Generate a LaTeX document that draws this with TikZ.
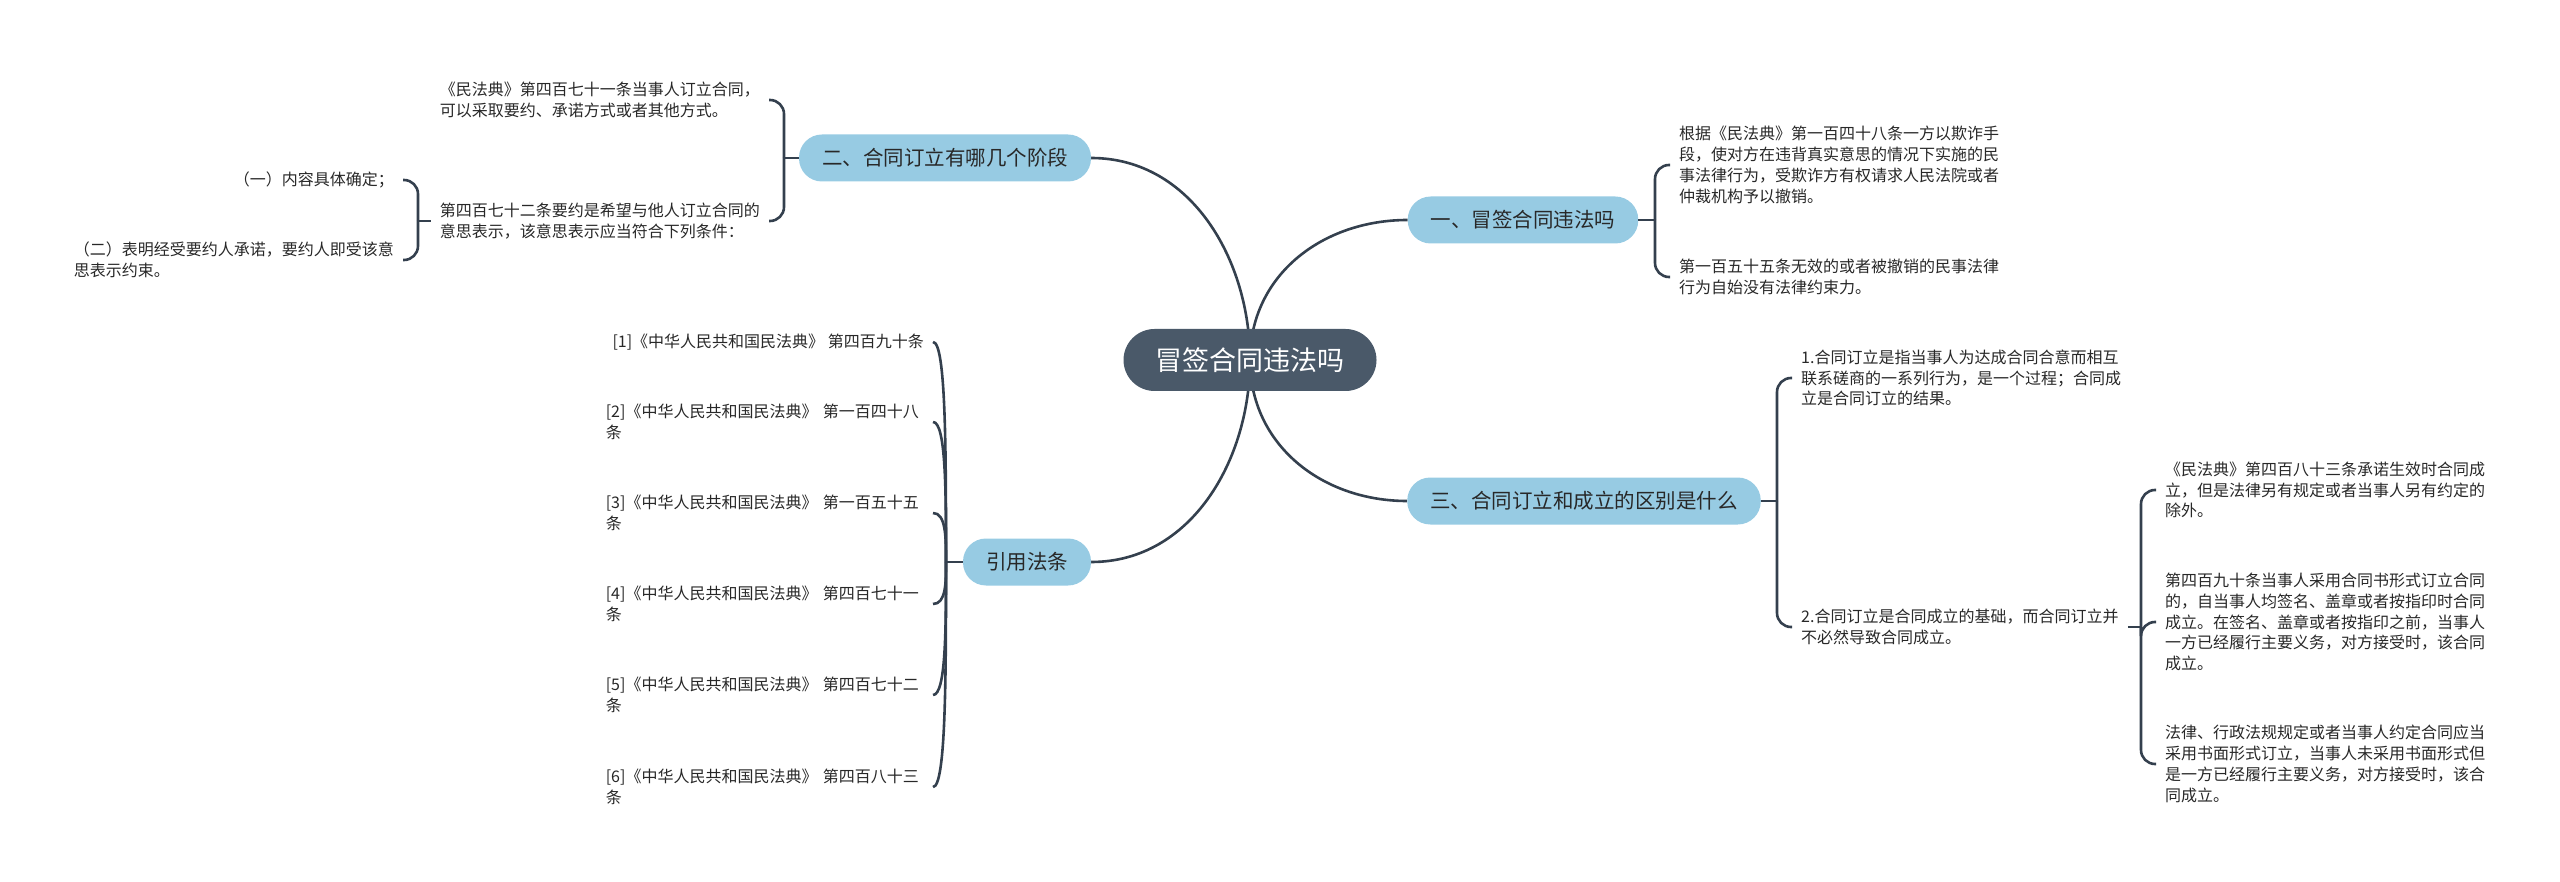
\documentclass[tikz,border=0pt]{standalone}
\usepackage{fontspec}
\setmainfont{Noto Sans CJK SC}
\usetikzlibrary{calc,backgrounds}
\definecolor{rootgray}{RGB}{74,89,105}
\definecolor{topicblue}{RGB}{151,203,227}
\definecolor{linkgray}{RGB}{52,64,78}
\definecolor{textgray}{RGB}{40,40,40}

\begin{document}
\begin{tikzpicture}[x=1pt,y=-1pt,
  root/.style={fill=rootgray,text=white,rounded corners=31pt,minimum height=62pt,inner xsep=32pt,inner ysep=0pt,font=\fontsize{27}{32}\selectfont},
  topic/.style={fill=topicblue,text=textgray,rounded corners=23pt,minimum height=47pt,inner xsep=23pt,inner ysep=0pt,font=\fontsize{20.5}{24}\selectfont},
  leaf/.style={text=textgray,align=left,inner xsep=9pt,inner ysep=0pt,font=\fontsize{16}{20.8}\selectfont},
  link/.style={linkgray,line width=2.6pt},
  brace/.style={link,rounded corners=14pt}]
\useasboundingbox (0,0) rectangle (2560,882);

% central topic and main branches
\node[root] (root) at (1250,360) {冒签合同违法吗};
\node[topic] (n1) at (1523,220) {一、冒签合同违法吗};
\node[topic] (n2) at (945,158) {二、合同订立有哪几个阶段};
\node[topic] (n3) at (1584,501) {三、合同订立和成立的区别是什么};
\node[topic] (n4) at (1027,562) {引用法条};

\begin{scope}[on background layer]
\draw[link] (root.center) .. controls +(0,-85) and +(-85,0) .. (n1.west);
\draw[link] (root.center) .. controls +(0,-100) and +(100,0) .. (n2.east);
\draw[link] (root.center) .. controls +(0,85) and +(-85,0) .. (n3.west);
\draw[link] (root.center) .. controls +(0,100) and +(100,0) .. (n4.east);
\end{scope}

% branch one
\node[leaf,anchor=west] (c11) at (1670,165) {根据《民法典》第一百四十八条一方以欺诈手\\段，使对方在违背真实意思的情况下实施的民\\事法律行为，受欺诈方有权请求人民法院或者\\仲裁机构予以撤销。};
\node[leaf,anchor=west] (c12) at (1670,277) {第一百五十五条无效的或者被撤销的民事法律\\行为自始没有法律约束力。};
\coordinate (b1) at (1655,220);
\draw[link] (n1.east) -- (b1);
\draw[brace] (b1) |- (c11.west);
\draw[brace] (b1) |- (c12.west);

% branch two
\node[leaf,anchor=east] (c21) at (769,100) {《民法典》第四百七十一条当事人订立合同，\\可以采取要约、承诺方式或者其他方式。};
\node[leaf,anchor=east] (c22) at (769,221) {第四百七十二条要约是希望与他人订立合同的\\意思表示，该意思表示应当符合下列条件：};
\coordinate (b2) at (784,158);
\draw[link] (n2.west) -- (b2);
\draw[brace] (b2) |- (c21.east);
\draw[brace] (b2) |- (c22.east);

\node[leaf,anchor=east] (c221) at (403,180) {（一）内容具体确定；};
\node[leaf,anchor=east] (c222) at (403,260) {（二）表明经受要约人承诺，要约人即受该意\\思表示约束。};
\coordinate (b22) at (418,221);
\draw[link] (c22.west) -- (b22);
\draw[brace] (b22) |- (c221.east);
\draw[brace] (b22) |- (c222.east);

% branch three
\node[leaf,anchor=west] (c31) at (1792,378) {1.合同订立是指当事人为达成合同合意而相互\\联系磋商的一系列行为，是一个过程；合同成\\立是合同订立的结果。};
\node[leaf,anchor=west] (c32) at (1792,627) {2.合同订立是合同成立的基础，而合同订立并\\不必然导致合同成立。};
\coordinate (b3) at (1777,501);
\draw[link] (n3.east) -- (b3);
\draw[brace] (b3) |- (c31.west);
\draw[brace] (b3) |- (c32.west);

\node[leaf,anchor=west] (c321) at (2156,490) {《民法典》第四百八十三条承诺生效时合同成\\立，但是法律另有规定或者当事人另有约定的\\除外。};
\node[leaf,anchor=west] (c322) at (2156,622) {第四百九十条当事人采用合同书形式订立合同\\的，自当事人均签名、盖章或者按指印时合同\\成立。在签名、盖章或者按指印之前，当事人\\一方已经履行主要义务，对方接受时，该合同\\成立。};
\node[leaf,anchor=west] (c323) at (2156,764) {法律、行政法规规定或者当事人约定合同应当\\采用书面形式订立，当事人未采用书面形式但\\是一方已经履行主要义务，对方接受时，该合\\同成立。};
\coordinate (b32) at (2141,627);
\draw[link] (c32.east) -- (b32);
\draw[brace] (b32) |- (c321.west);
\draw[brace] (b32) |- (c322.west);
\draw[brace] (b32) |- (c323.west);

% cited articles
\node[leaf,anchor=east] (r1) at (933,342) {[1]《中华人民共和国民法典》 第四百九十条};
\node[leaf,anchor=east,text width=318pt] (r2) at (933,422) {[2]《中华人民共和国民法典》 第一百四十八\\条};
\node[leaf,anchor=east,text width=318pt] (r3) at (933,513) {[3]《中华人民共和国民法典》 第一百五十五\\条};
\node[leaf,anchor=east,text width=318pt] (r4) at (933,604) {[4]《中华人民共和国民法典》 第四百七十一\\条};
\node[leaf,anchor=east,text width=318pt] (r5) at (933,695) {[5]《中华人民共和国民法典》 第四百七十二\\条};
\node[leaf,anchor=east,text width=318pt] (r6) at (933,787) {[6]《中华人民共和国民法典》 第四百八十三\\条};
\coordinate (b4) at (946,562);
\draw[link] (n4.west) -- (b4);
\draw[link] (b4) .. controls ($(b4)!.5!(b4|-r1.east)$) and (b4|-r1.east) .. (r1.east);
\draw[link] (b4) .. controls ($(b4)!.5!(b4|-r2.east)$) and (b4|-r2.east) .. (r2.east);
\draw[link] (b4) .. controls ($(b4)!.5!(b4|-r3.east)$) and (b4|-r3.east) .. (r3.east);
\draw[link] (b4) .. controls ($(b4)!.5!(b4|-r4.east)$) and (b4|-r4.east) .. (r4.east);
\draw[link] (b4) .. controls ($(b4)!.5!(b4|-r5.east)$) and (b4|-r5.east) .. (r5.east);
\draw[link] (b4) .. controls ($(b4)!.5!(b4|-r6.east)$) and (b4|-r6.east) .. (r6.east);
\end{tikzpicture}
\end{document}
